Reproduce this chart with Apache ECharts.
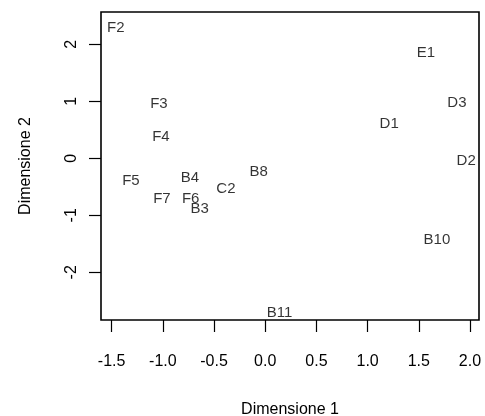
<!DOCTYPE html>
<html>
<head>
<meta charset="utf-8">
<script src="https://cdn.jsdelivr.net/npm/echarts@6/dist/echarts.min.js"></script>
<style>html,body{margin:0;padding:0;background:#fff}#c{width:485px;height:416px}</style>
</head>
<body>
<div id="c"></div>
<script>
var labels = ['F2','F3','F4','F5','B4','C2','F7','F6','B3','B8','E1','D3','D1','D2','B10','B11'];
var xVals  = [-1.46,-1.038,-1.019,-1.312,-0.735,-0.384,-1.009,-0.728,-0.641,-0.065,1.569,1.872,1.211,1.963,1.677,0.14];
var yVals  = [2.295,0.953,0.379,-0.398,-0.34,-0.533,-0.709,-0.72,-0.895,-0.246,1.842,0.965,0.602,-0.047,-1.433,-2.709];
var xTicks = [-1.5,-1.0,-0.5,0.0,0.5,1.0,1.5,2.0];
var yTicks = [-2,-1,0,1,2];

var data = labels.map(function(n,i){return [xVals[i], yVals[i], n];});
var font = 'Liberation Sans, Arial, sans-serif';
var chart = echarts.init(document.getElementById('c'), null, {renderer:'canvas'});
chart.setOption({
  animation:false,
  backgroundColor:'#fff',
  grid:{left:101,right:6,top:12,bottom:96,show:true,borderColor:'#000',borderWidth:1.6,backgroundColor:'transparent',
    containLabel:false,outerBoundsMode:'none'},
  xAxis:{
    type:'value', min:-1.604, max:2.088,
    name:'Dimensione 1', nameLocation:'middle', nameGap:82,
    nameTextStyle:{color:'#000',fontSize:16,fontFamily:font},
    axisLine:{show:false,onZero:false},
    splitLine:{show:false},
    axisTick:{show:true,length:12,lineStyle:{color:'#000',width:1.2},customValues:xTicks},
    axisLabel:{color:'#000',fontSize:16,fontFamily:font,margin:34,customValues:xTicks,
      formatter:function(v){return v.toFixed(1);}}
  },
  yAxis:{
    type:'value', min:-2.837, max:2.567,
    name:'Dimensione 2', nameLocation:'middle', nameGap:67, nameRotate:90,
    nameTextStyle:{color:'#000',fontSize:16,fontFamily:font},
    axisLine:{show:false,onZero:false},
    splitLine:{show:false},
    axisTick:{show:true,length:12,lineStyle:{color:'#000',width:1.2},customValues:yTicks},
    axisLabel:{color:'#000',fontSize:16,fontFamily:font,margin:21,rotate:90,customValues:yTicks,
      formatter:function(v){return String(v);}}
  },
  series:[{
    type:'scatter', data:data, symbolSize:0, silent:true,
    label:{show:true,position:'inside',color:'#000',fontSize:15,fontFamily:font,
      formatter:function(p){return p.data[2];}}
  }]
});
</script>
</body>
</html>
